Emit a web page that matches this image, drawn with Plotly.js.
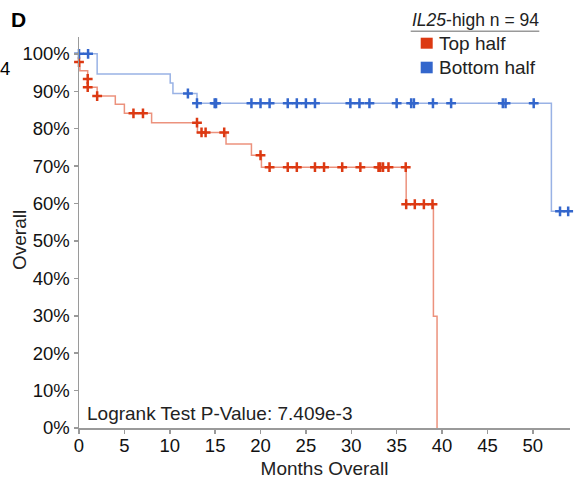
<!DOCTYPE html>
<html>
<head>
<meta charset="utf-8">
<script src="https://cdn.plot.ly/plotly-3.0.1.min.js"></script>
<style>html,body{margin:0;padding:0;background:#fff;}#chart{width:575px;height:483px;}</style>
</head>
<body>
<div id="chart"></div>
<script>
// Kaplan-Meier step curves (months, % surviving)
const redTimes = [0, 0.02, 0.1, 0.96, 0.98, 2.0, 4.0, 5.0, 8.0, 13.05, 16.2, 19.0, 20.1, 36.05, 39.05, 39.45];
const redSurv  = [100, 97.8, 95.5, 93.3, 91.1, 88.7, 86.5, 84.1, 81.6, 79.0, 75.9, 72.9, 69.7, 59.8, 29.9, 0];
const blueTimes = [0, 2.0, 10.05, 10.35, 13.0, 52.05, 53.9];
const blueSurv  = [100, 94.6, 92.2, 89.4, 86.8, 57.9, 57.9];

// Censored observations
const redCensorT = [0, 0.96, 0.96, 2.0, 6.0, 7.05, 13.0, 13.5, 13.95, 16.0, 20.0, 21.0, 23.0, 24.0, 26.0, 27.0, 29.0, 31.0, 33.0, 33.2, 33.5, 34.1, 36.0, 36.05, 37.0, 38.0, 38.95];
const redCensorS = [97.8, 93.3, 91.1, 88.7, 84.1, 84.1, 81.6, 79.0, 79.0, 79.0, 72.9, 69.7, 69.7, 69.7, 69.7, 69.7, 69.7, 69.7, 69.7, 69.7, 69.7, 69.7, 69.7, 59.8, 59.8, 59.8, 59.8];
const blueCensorT = [0, 1.0, 12.0, 13.0, 14.95, 15.1, 19.0, 20.0, 21.0, 23.0, 24.0, 25.0, 26.0, 29.9, 30.9, 32.0, 35.0, 36.6, 36.9, 39.0, 41.0, 46.7, 47.0, 50.1, 53.0, 53.9];
const blueCensorS = [100, 100, 89.4, 86.8, 86.8, 86.8, 86.8, 86.8, 86.8, 86.8, 86.8, 86.8, 86.8, 86.8, 86.8, 86.8, 86.8, 86.8, 86.8, 86.8, 86.8, 86.8, 86.8, 86.8, 57.9, 57.9];

const groupLabels = ['Top half', 'Bottom half'];
const legendTitle = '<i>IL25</i>-high n = 94';
const pValueText = 'Logrank Test P-Value: 7.409e-3';
const xTitle = 'Months Overall';
const yTitle = 'Overall';
const xTicks = [0, 5, 10, 15, 20, 25, 30, 35, 40, 45, 50];
const yTicks = [0, 10, 20, 30, 40, 50, 60, 70, 80, 90, 100];

const RED = '#dc3912', BLUE = '#3366cc';
const FONT = 'Arial, "Liberation Sans", sans-serif';

// pixel -> paper helpers (plot area: x 79..570, y 37..428)
const L = 79, R = 570, T = 37, B = 428;
const px = v => (v - L) / (R - L);
const py = v => (B - v) / (B - T);

const censorMarker = c => ({symbol: 'cross-thin', size: 7, color: c, line: {width: 2.5, color: c}});

const traces = [
  {x: redTimes, y: redSurv, mode: 'lines', line: {shape: 'hv', color: 'rgba(220,57,18,0.55)', width: 1.5}, hoverinfo: 'skip', showlegend: false},
  {x: blueTimes, y: blueSurv, mode: 'lines', line: {shape: 'hv', color: 'rgba(51,102,204,0.5)', width: 1.5}, hoverinfo: 'skip', showlegend: false},
  {x: redCensorT, y: redCensorS, mode: 'markers', marker: censorMarker(RED), cliponaxis: false, showlegend: false},
  {x: blueCensorT, y: blueCensorS, mode: 'markers', marker: censorMarker(BLUE), cliponaxis: false, showlegend: false}
];

const layout = {
  width: 575, height: 483,
  margin: {l: L, r: 575 - R, t: T, b: 483 - B, pad: 0},
  paper_bgcolor: '#fff', plot_bgcolor: '#fff',
  font: {family: FONT, size: 18.5, color: '#111'},
  showlegend: false,
  xaxis: {
    range: [0, 54.1], tickvals: xTicks, ticktext: xTicks.map(String),
    showgrid: false, zeroline: false, showline: true, linecolor: '#9a9a9a', linewidth: 1.5,
    ticks: 'outside', ticklen: 4, tickcolor: '#9a9a9a', tickwidth: 1.5,
    ticklabelstandoff: -4,
    tickfont: {size: 18.5, color: '#111'},
    title: {text: xTitle, font: {size: 19, color: '#222'}, standoff: 7}
  },
  yaxis: {
    range: [0, 104.5], tickvals: yTicks, ticktext: yTicks.map(v => v + '%'),
    showgrid: false, zeroline: false, showline: true, linecolor: '#9a9a9a', linewidth: 1.5,
    ticks: 'outside', ticklen: 4, tickcolor: '#9a9a9a', tickwidth: 1.5,
    tickfont: {size: 18.5, color: '#111'}
  },
  shapes: [
    {type: 'line', xref: 'paper', yref: 'paper', x0: px(410.7), x1: px(539.3), y0: py(31.3), y1: py(31.3), line: {color: '#999', width: 1.5}},
    {type: 'rect', xref: 'paper', yref: 'paper', x0: px(420.7), x1: px(432.7), y0: py(48.7), y1: py(37.7), fillcolor: RED, line: {width: 0}},
    {type: 'rect', xref: 'paper', yref: 'paper', x0: px(420.7), x1: px(432.7), y0: py(73.3), y1: py(61.7), fillcolor: BLUE, line: {width: 0}}
  ],
  annotations: [
    {text: yTitle, xref: 'paper', yref: 'paper', x: px(20), y: py(240), xanchor: 'center', yanchor: 'middle', textangle: -90, showarrow: false, font: {size: 19, color: '#222'}},
    {text: legendTitle, xref: 'paper', yref: 'paper', x: px(410), y: py(20), xanchor: 'left', yanchor: 'middle', showarrow: false, font: {size: 17.5, color: '#222'}},
    {text: groupLabels[0], xref: 'paper', yref: 'paper', x: px(437), y: py(43), xanchor: 'left', yanchor: 'middle', showarrow: false, font: {size: 19, color: '#222'}},
    {text: groupLabels[1], xref: 'paper', yref: 'paper', x: px(437), y: py(67.5), xanchor: 'left', yanchor: 'middle', showarrow: false, font: {size: 19, color: '#222'}},
    {text: pValueText, xref: 'paper', yref: 'paper', x: px(85), y: py(413), xanchor: 'left', yanchor: 'middle', showarrow: false, font: {size: 19, color: '#222'}},
    {text: '<b>D</b>', xref: 'paper', yref: 'paper', x: px(18), y: py(19), xanchor: 'center', yanchor: 'middle', showarrow: false, font: {size: 21, color: '#000'}},
    {text: '4', xref: 'paper', yref: 'paper', x: px(4.5), y: py(69), xanchor: 'center', yanchor: 'middle', showarrow: false, font: {size: 18.5, color: '#000'}}
  ]
};

Plotly.newPlot('chart', traces, layout, {displayModeBar: false, staticPlot: true});
</script>
</body>
</html>
